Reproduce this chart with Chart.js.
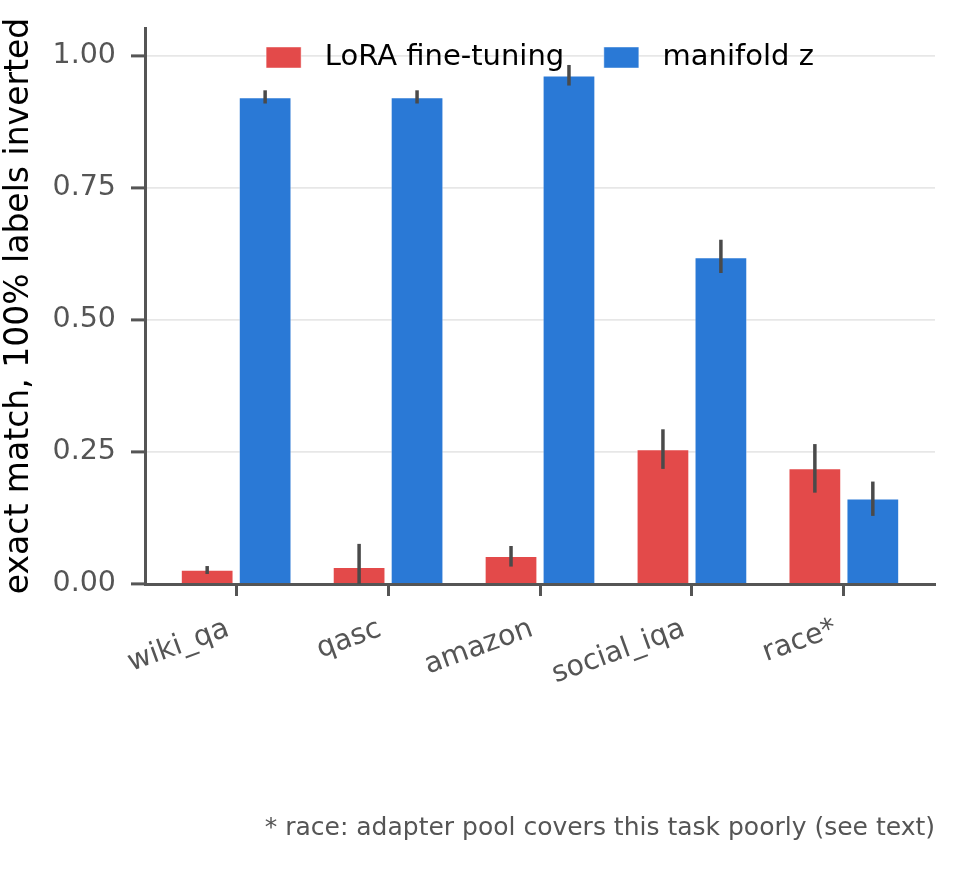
<!DOCTYPE html>
<html lang="en">
<head>
    <title>Exact match, 100% labels inverted</title>
    <script src="https://cdn.jsdelivr.net/npm/chart.js"></script>
    <style>
        body { margin: 0; background: #fff; }
    </style>
</head>
<body>
    <canvas id="emChart" width="965" height="872"></canvas>

    <script>
        // data
        const categories = ['wiki_qa', 'qasc', 'amazon', 'social_iqa', 'race*'];
        const loraValues = [0.027, 0.032, 0.053, 0.255, 0.219];
        const loraLow    = [0.019, 0.000, 0.033, 0.218, 0.173];
        const loraHigh   = [0.034, 0.076, 0.072, 0.293, 0.265];
        const manifoldValues = [0.922, 0.922, 0.963, 0.619, 0.162];
        const manifoldLow    = [0.910, 0.910, 0.944, 0.589, 0.129];
        const manifoldHigh   = [0.935, 0.935, 0.983, 0.652, 0.194];
        const yTicks = [0, 0.25, 0.5, 0.75, 1.0];
        const footnote = '* race: adapter pool covers this task poorly (see text)';

        const FONT = 'DejaVu Sans';

        // error bars, drawn last so they sit over the grid lines
        const errorBars = {
            id: 'errorBars',
            afterDraw(chart) {
                const ctx = chart.ctx;
                const y = chart.scales.y;
                const ranges = [[loraLow, loraHigh], [manifoldLow, manifoldHigh]];
                ctx.save();
                ctx.strokeStyle = '#4a4a4a';
                ctx.lineWidth = 3.5;
                ranges.forEach((r, i) => {
                    const meta = chart.getDatasetMeta(i);
                    meta.data.forEach((bar, j) => {
                        ctx.beginPath();
                        ctx.moveTo(bar.x, y.getPixelForValue(r[0][j]));
                        ctx.lineTo(bar.x, y.getPixelForValue(r[1][j]));
                        ctx.stroke();
                    });
                });
                ctx.restore();
            }
        };

        // move the legend down so it floats inside the plot, like matplotlib's
        const floatLegend = {
            id: 'floatLegend',
            afterLayout(chart) {
                const lg = chart.legend;
                if (!lg) return;
                const h = lg.height;
                lg.top = 31;
                lg.bottom = 31 + h;
            }
        };

        const ctx = document.getElementById('emChart').getContext('2d');

        new Chart(ctx, {
            type: 'bar',
            data: {
                datasets: [{
                    label: 'LoRA fine-tuning',
                    data: loraValues.map((v, i) => ({ x: i, y: v })),
                    backgroundColor: '#e34a4a',
                    borderColor: 'rgba(255,255,255,0.45)',
                    borderWidth: 1
                }, {
                    label: 'manifold z',
                    data: manifoldValues.map((v, i) => ({ x: i, y: v })),
                    backgroundColor: '#2a79d6',
                    borderColor: 'rgba(255,255,255,0.45)',
                    borderWidth: 1
                }]
            },
            options: {
                responsive: false,
                animation: false,
                categoryPercentage: 0.763,
                barPercentage: 0.91,
                // pull the legend's row up so the plot still starts at y=28
                layout: { padding: { top: -23, right: 30, left: 0, bottom: 0 } },
                plugins: {
                    legend: {
                        position: 'top',
                        fullSize: false,
                        align: 'center',
                        labels: {
                            boxWidth: 35,
                            boxHeight: 21,
                            padding: 12,
                            color: '#000',
                            font: { family: FONT, size: 29 },
                            generateLabels(chart) {
                                const items = Chart.defaults.plugins.legend.labels.generateLabels(chart);
                                items.forEach((it, i) => {
                                    it.text = ' ' + it.text + (i === 0 ? '   ' : '');
                                });
                                return items;
                            }
                        }
                    },
                    title: {
                        display: true,
                        text: footnote,
                        position: 'bottom',
                        align: 'end',
                        color: '#555',
                        font: { family: FONT, size: 25, weight: 'normal' },
                        padding: { top: 0, bottom: 29 }
                    },
                    tooltip: { enabled: false }
                },
                scales: {
                    x: {
                        type: 'linear',
                        min: -0.6,
                        max: 4.6,
                        offset: false,
                        z: 1,
                        afterBuildTicks(scale) {
                            scale.ticks = categories.map((c, i) => ({ value: i }));
                        },
                        afterFit(scale) { scale.height = 229; },
                        ticks: {
                            callback: (v) => categories[v],
                            minRotation: 20,
                            maxRotation: 20,
                            padding: 16,
                            labelOffset: -8,
                            color: '#555',
                            font: { family: FONT, size: 28.5 }
                        },
                        grid: {
                            offset: false,
                            drawOnChartArea: false,
                            tickLength: 12,
                            tickColor: '#555',
                            tickWidth: 3
                        },
                        border: { color: '#555', width: 3 }
                    },
                    y: {
                        min: 0,
                        max: 1.053,
                        z: 1,
                        afterBuildTicks(scale) {
                            scale.ticks = yTicks.map(v => ({ value: v }));
                        },
                        afterFit(scale) {
                            scale.width = 145;
                            scale.paddingTop = 0;
                            scale.paddingBottom = 0;
                        },
                        ticks: {
                            callback: (v) => v.toFixed(2),
                            padding: 15,
                            color: '#555',
                            font: { family: FONT, size: 28.5 }
                        },
                        grid: {
                            color: 'rgba(228,228,228,0.9)',
                            lineWidth: 1.8,
                            tickLength: 14,
                            tickColor: '#555',
                            tickWidth: 3
                        },
                        border: { color: '#555', width: 3 },
                        title: {
                            display: true,
                            text: 'exact match, 100% labels inverted',
                            color: '#000',
                            font: { family: FONT, size: 33 },
                            padding: { top: 0, bottom: 0 }
                        }
                    }
                }
            },
            plugins: [errorBars, floatLegend]
        });
    </script>
</body>
</html>
